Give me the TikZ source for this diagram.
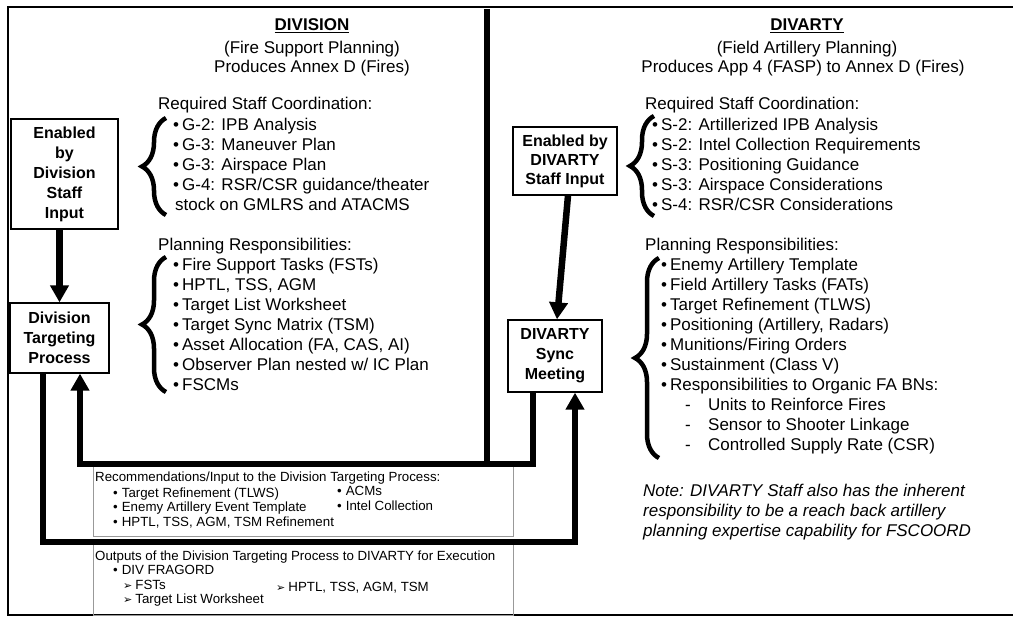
\documentclass[tikz,border=0pt]{standalone}
\usepackage{fontspec}
\setmainfont{Liberation Sans}
\newfontfamily\symfont{DejaVu Sans}
\usetikzlibrary{arrows.meta,decorations.pathreplacing}

\newcommand\itm{\textbullet\hspace{3pt}}
\newcommand\sitm{\textbullet\hspace{4pt}}
\newcommand\arr{{\symfont\fontsize{11}{10}\selectfont ➢}\hspace{3pt}}

\tikzset{
  txt/.style={anchor=base west, inner sep=0pt, font=\fontsize{17}{20}\selectfont},
  ctr/.style={anchor=base, inner sep=0pt, font=\fontsize{17}{20}\selectfont},
  small/.style={anchor=base west, inner sep=0pt, font=\fontsize{13.3}{14.5}\selectfont},
  procbox/.style={draw, line width=1.3pt, align=center, inner sep=0pt,
    font=\fontsize{16}{20}\selectfont\bfseries},
  flow/.style={line width=6.5pt, line join=miter},
  flowarrow/.style={flow, -{Triangle[width=18pt,length=17pt]}},
  bigbrace/.style={decorate, decoration={brace, amplitude=24pt}, line width=4.5pt},
  listbox/.style={draw=gray!80, line width=0.9pt},
}

\begin{document}
\begin{tikzpicture}[x=1pt, y=-1pt]
\path[use as bounding box] (0,0) rectangle (1013,623);

% outer frame (open on the right)
\draw[line width=1.8pt] (1013,7) -- (8,7) -- (8,615) -- (1013,615);

% framed lists under the flow lines
\draw[listbox] (93,464) rectangle (513,536);
\draw[listbox] (93,542) rectangle (513,615);

% process boxes
\node[procbox, minimum width=107pt, minimum height=110pt] (en1) at (64.5,174)
  {Enabled\\by\\Division\\Staff\\Input};
\node[procbox, minimum width=99pt, minimum height=70pt] (dtp) at (59.5,338)
  {Division\\Targeting\\Process};
\node[procbox, minimum width=104pt, minimum height=68pt,
  font=\fontsize{16}{19}\selectfont\bfseries] (en2) at (565,161)
  {Enabled by\\DIVARTY\\Staff Input};
\node[procbox, minimum width=94pt, minimum height=72pt] (sync) at (555,356)
  {DIVARTY\\Sync\\Meeting};

% flow lines
\coordinate (divT) at (487,9);
\coordinate (recR) at (533,464);
\coordinate (recL) at (80,464);
\coordinate (outL) at (43,542);
\coordinate (outR) at (575,542);

\draw[line width=6pt] (divT) -- (divT |- recR);
\draw[flowarrow] (en1.south -| dtp.north) -- (dtp.north);
\draw[flowarrow] ([xshift=3pt]en2.south) -- ([xshift=2pt]sync.north);
\draw[flowarrow] (sync.south -| recR) -- (recR) -- (recL) -- (dtp.south -| recL);
\draw[flowarrow] (dtp.south -| outL) -- (outL) -- (outR) -- (sync.south -| outR);

% braces
\draw[bigbrace] (166,215) -- (166,118);
\draw[bigbrace] (166,392) -- (166,257);
\draw[bigbrace] (654,216) -- (654,116);
\draw[bigbrace] (659,458) -- (659,258);

% DIVISION column
\node[ctr] (divh) at (312,30.5) {\bfseries\underline{DIVISION}};
\node[ctr] (divs) at (312,53.5) {(Fire Support Planning)};
\node[ctr] (divp) at (312,73) {Produces Annex D (Fires)};
\node[txt] (lreqh) at (158,110) {Required Staff Coordination:};
\foreach \t [count=\i] in {G-2: IPB Analysis, G-3: Maneuver Plan,
    G-3: Airspace Plan, G-4: RSR/CSR guidance/theater}
  \node[txt] (lreq\i) at (173,111+20*\i) {\itm\t};
\node[txt] (lreq5) at (175,211) {stock on GMLRS and ATACMS};
\node[txt] (lplnh) at (158,251) {Planning Responsibilities:};
\foreach \t [count=\i] in {Fire Support Tasks (FSTs), {HPTL, TSS, AGM},
    Target List Worksheet, Target Sync Matrix (TSM),
    {Asset Allocation (FA, CAS, AI)}, Observer Plan nested w/ IC Plan, FSCMs}
  \node[txt] (lpln\i) at (173,250+20*\i) {\itm\t};

% DIVARTY column
\node[ctr] (arth) at (807,31) {\bfseries\underline{DIVARTY}};
\node[ctr] (arts) at (807,53.5) {(Field Artillery Planning)};
\node[ctr] (artp) at (803,73) {Produces App 4 (FASP) to Annex D (Fires)};
\node[txt] (rreqh) at (645,110) {Required Staff Coordination:};
\foreach \t [count=\i] in {S-2: Artillerized IPB Analysis,
    S-2: Intel Collection Requirements, S-3: Positioning Guidance,
    S-3: Airspace Considerations, S-4: RSR/CSR Considerations}
  \node[txt] (rreq\i) at (652,111+20*\i) {\itm\t};
\node[txt] (rplnh) at (645,251) {Planning Responsibilities:};
\foreach \t [count=\i] in {Enemy Artillery Template, Field Artillery Tasks (FATs),
    Target Refinement (TLWS), {Positioning (Artillery, Radars)},
    Munitions/Firing Orders, Sustainment (Class V),
    Responsibilities to Organic FA BNs:}
  \node[txt] (rpln\i) at (661,250+20*\i) {\itm\t};
\foreach \t [count=\i] in {Units to Reinforce Fires, Sensor to Shooter Linkage,
    Controlled Supply Rate (CSR)}
  \node[txt] (rsub\i) at (685,390+20*\i) {\makebox[23pt][l]{-}\t};

\node[txt, font=\fontsize{17}{20}\selectfont\itshape] (note1) at (643,496)
  {Note: DIVARTY Staff also has the inherent};
\node[txt, font=\fontsize{17}{20}\selectfont\itshape] (note2) at (643,516)
  {responsibility to be a reach back artillery};
\node[txt, font=\fontsize{17}{20}\selectfont\itshape] (note3) at (643,536)
  {planning expertise capability for FSCOORD};

% recommendations list
\node[small] (rech) at (95,481.5) {Recommendations/Input to the Division Targeting Process:};
\node[small] (rec1) at (113,497) {\sitm Target Refinement (TLWS)};
\node[small] (rec2) at (113,511.5) {\sitm Enemy Artillery Event Template};
\node[small] (rec3) at (113,526) {\sitm HPTL, TSS, AGM, TSM Refinement};
\node[small] (rec4) at (337,495) {\sitm ACMs};
\node[small] (rec5) at (337,510) {\sitm Intel Collection};

% outputs list
\node[small] (outh) at (95,560) {Outputs of the Division Targeting Process to DIVARTY for Execution};
\node[small] (out1) at (113,574.5) {\sitm DIV FRAGORD};
\node[small] (out2) at (123,589) {\arr FSTs};
\node[small] (out3) at (123,603.5) {\arr Target List Worksheet};
\node[small] (out4) at (276,591.5) {\arr HPTL, TSS, AGM, TSM};
\end{tikzpicture}
\end{document}
